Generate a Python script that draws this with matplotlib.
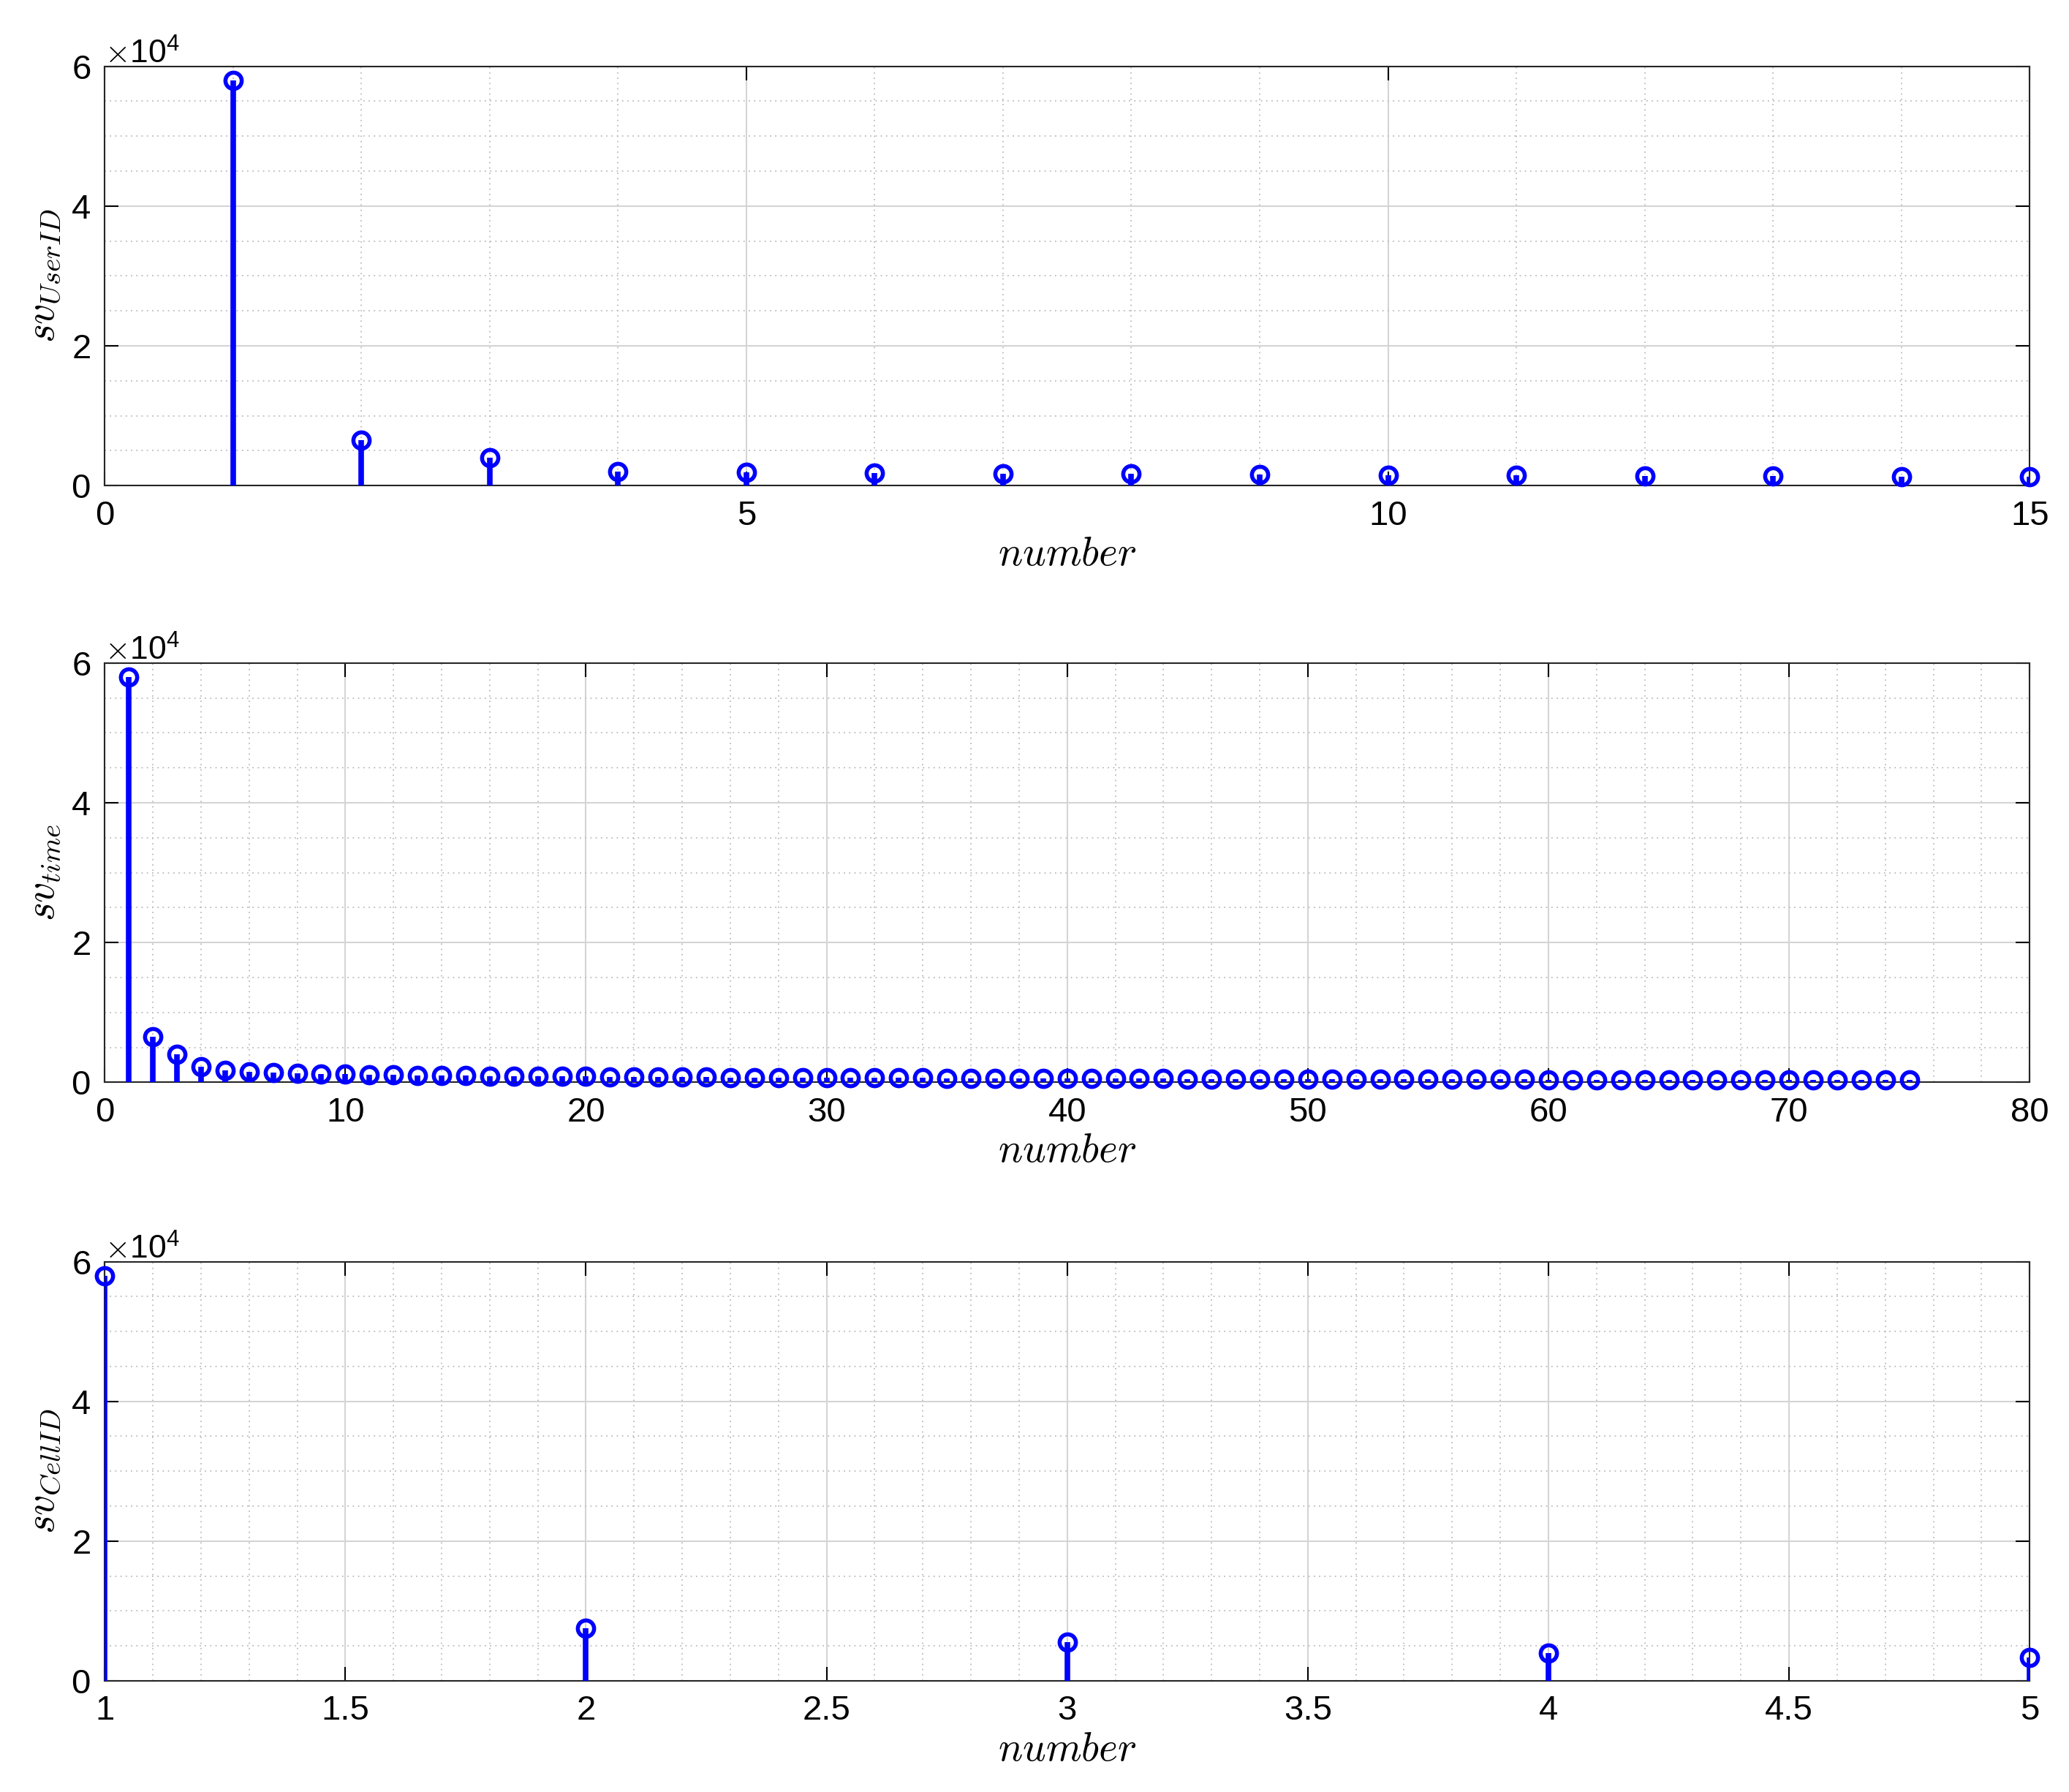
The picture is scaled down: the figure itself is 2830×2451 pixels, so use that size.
import matplotlib
matplotlib.use("Agg")
import matplotlib.pyplot as plt
from matplotlib.ticker import MultipleLocator, ScalarFormatter, FormatStrFormatter

plt.rcParams['font.family'] = ['Liberation Sans', 'DejaVu Sans']
plt.rcParams['mathtext.fontset'] = 'cm'

x1 = list(range(1, 16))
v1 = [58000, 6500, 4000, 2000, 1900, 1800, 1700, 1650, 1550, 1500, 1450, 1400, 1350, 1300, 1250]

x2 = list(range(1, 76))
v2 = [58000, 6500, 4000, 2200, 1700, 1500, 1400, 1300, 1200, 1150,
      1100, 1050, 1000, 980, 950, 920, 900, 870, 850, 830,
      810, 790, 770, 750, 735, 720, 705, 690, 675, 660,
      650, 640, 630, 620, 610, 600, 590, 580, 570, 560,
      550, 540, 530, 520, 510, 500, 495, 490, 480, 470,
      465, 460, 450, 445, 440, 430, 425, 420, 410, 405,
      400, 395, 390, 385, 380, 375, 370, 365, 360, 355,
      350, 345, 340, 335, 330]

x3 = [1, 2, 3, 4, 5]
v3 = [58000, 7500, 5500, 4000, 3300]

labels = [r'$sv_{UserID}$', r'$sv_{time}$', r'$sv_{CellID}$']
xlims = [(0, 15), (0, 80), (1, 5)]
xmaj = [5, 10, 0.5]
xmin = [1, 2, 0.1]
data = [(x1, v1), (x2, v2), (x3, v3)]

fig = plt.figure(figsize=(28.30, 24.51), dpi=100)
bottoms = [0.729, 0.396, 0.062]
for i, (xs, vs) in enumerate(data):
    ax = fig.add_axes([0.0506, bottoms[i], 0.9304, 0.234])
    ax.vlines(xs, 0, vs, color='#0000ff', lw=5.5, zorder=3)
    ax.plot(xs, vs, 'o', mfc='none', mec='#0000ff', mew=4, ms=16, zorder=4, clip_on=False)
    ax.set_xlim(*xlims[i])
    ax.set_ylim(0, 60000)
    ax.xaxis.set_major_locator(MultipleLocator(xmaj[i]))
    ax.xaxis.set_minor_locator(MultipleLocator(xmin[i]))
    ax.xaxis.set_major_formatter(FormatStrFormatter('%g'))
    ax.yaxis.set_major_locator(MultipleLocator(20000))
    ax.yaxis.set_minor_locator(MultipleLocator(5000))
    fmt = ScalarFormatter(useMathText=True)
    fmt.set_powerlimits((0, 0))
    ax.yaxis.set_major_formatter(fmt)
    ax.yaxis.get_offset_text().set_fontsize(32)
    ax.grid(which='major', color='#d4d4d4', lw=1.5)
    ax.grid(which='minor', color='#bcbcbc', lw=1.3, ls=(0, (1, 3)))
    ax.tick_params(which='both', direction='in', top=True, right=True, labelsize=34, pad=14)
    ax.tick_params(which='major', length=14, width=1.5)
    ax.tick_params(which='minor', length=0)
    for s in ax.spines.values():
        s.set_linewidth(1.5)
        s.set_color('#262626')
    ax.set_ylabel(labels[i], fontsize=40, labelpad=8)
    ax.set_xlabel(r'$number$', fontsize=40, labelpad=4)

fig.savefig('out.png', dpi=100, facecolor='white')
